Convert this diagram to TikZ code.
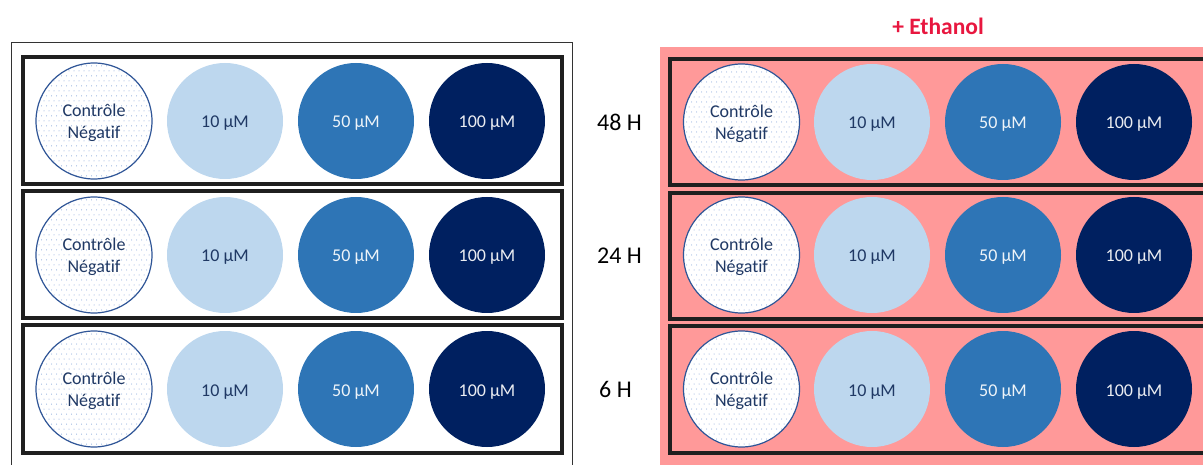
\documentclass[tikz,border=0pt]{standalone}
\usepackage{fontspec}
\setmainfont{Carlito}[Ligatures=NoCommon]
\definecolor{lb}{HTML}{BDD7EE}
\definecolor{mb}{HTML}{2E75B6}
\definecolor{db}{HTML}{002060}
\definecolor{txt}{HTML}{1F3864}
\definecolor{pinkbg}{HTML}{FF9999}
\definecolor{eth}{HTML}{E8173F}
\definecolor{ring}{HTML}{2F5597}
\definecolor{dotc}{HTML}{7A9DD6}
\tikzset{
 well/.style={circle, minimum size=116pt, inner sep=0pt, font=\fontsize{18}{21}\selectfont, align=center, text height=14pt, text depth=0pt},
 ctrl/.style={circle, minimum size=116pt, inner sep=0pt, draw=ring, line width=1.2pt},
 ctrltext/.style={font=\fontsize{18}{21.5}\selectfont, align=center, text=txt, inner sep=0pt},
 c10/.style={well, fill=lb, text=txt},
 c50/.style={well, fill=mb, text=white!92!mb},
 c100/.style={well, fill=db, text=white!92!db},
 rowbox/.style={draw=black!88, line width=3.4pt},
 hours/.style={font=\fontsize{24}{28}\selectfont, anchor=west, inner sep=0pt, text height=17pt, text depth=0pt},
 dotdot/.style={fill=dotc}
}
\newcommand{\ctrlwell}[3]{%
  \fill[white] (#2,#3) circle (58pt);
  \begin{scope}
    \clip (#2,#3) circle (58pt);
    \foreach \i in {-12,...,12}{
      \foreach \j in {0,...,24}{
        \fill[dotdot] ({#2+\i*5+mod(\j,2)*2.5},{#3+(\j-12)*5}) circle (0.5pt);
      }
    }
  \end{scope}
  \node[ctrl] (#1) at (#2,#3) {};
  \node[ctrltext] (#1t) at ([yshift=-2pt]#1.center) {Contrôle\\Négatif};
}
\begin{document}
\begin{tikzpicture}[x=1pt,y=-1pt]
\useasboundingbox (0,0) rectangle (1203,465);
% left panel
\draw[black!80, line width=1pt] (572,480) -- (572,43) -- (11,43) -- (11,480);
% right panel
\fill[pinkbg] (660,47) rectangle (1210,470);
\node[font=\bfseries\fontsize{23.5}{27}\selectfont, text=eth] (eth) at (938,26) {+ Ethanol};
% row boxes
\draw[rowbox] (23,57) rectangle (562,184);
\draw[rowbox] (23,191) rectangle (562,318);
\draw[rowbox] (23,325) rectangle (562,453);
\draw[rowbox] (670,59) rectangle (1220,185);
\draw[rowbox] (670,193) rectangle (1220,319);
\draw[rowbox] (670,326) rectangle (1220,453);
% left wells
\ctrlwell{lc1}{94}{121}
\ctrlwell{lc2}{94}{255}
\ctrlwell{lc3}{94}{389}
\node[c10] (la1) at (225,121) {10 µM};
\node[c50] (lb1) at (356,121) {50 µM};
\node[c100] (ld1) at (487,121) {100 µM};
\node[c10] (la2) at (225,255) {10 µM};
\node[c50] (lb2) at (356,255) {50 µM};
\node[c100] (ld2) at (487,255) {100 µM};
\node[c10] (la3) at (225,389) {10 µM};
\node[c50] (lb3) at (356,389) {50 µM};
\node[c100] (ld3) at (487,389) {100 µM};
% right wells
\ctrlwell{rc1}{741.5}{122}
\ctrlwell{rc2}{741.5}{255}
\ctrlwell{rc3}{741.5}{389}
\node[c10] (ra1) at (872,122) {10 µM};
\node[c50] (rb1) at (1003,122) {50 µM};
\node[c100] (rd1) at (1134,122) {100 µM};
\node[c10] (ra2) at (872,255) {10 µM};
\node[c50] (rb2) at (1003,255) {50 µM};
\node[c100] (rd2) at (1134,255) {100 µM};
\node[c10] (ra3) at (872,389) {10 µM};
\node[c50] (rb3) at (1003,389) {50 µM};
\node[c100] (rd3) at (1134,389) {100 µM};
% hours
\node[hours] (h48) at (597,122) {48 H};
\node[hours] (h24) at (597,255) {24 H};
\node[hours] (h6) at (599,389) {6 H};
\end{tikzpicture}
\end{document}
